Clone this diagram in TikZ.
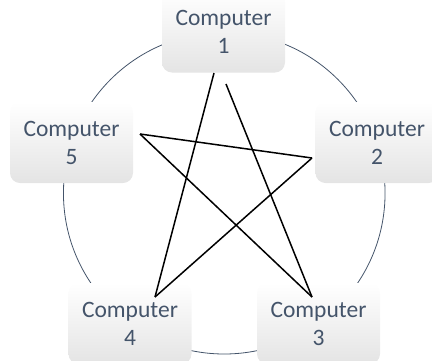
\documentclass[tikz,border=0pt]{standalone}
\usepackage{fontspec}
\setmainfont{Carlito}
\definecolor{textc}{HTML}{44546A}
\definecolor{boxbot}{HTML}{E4E4E4}
\tikzset{
  compbox/.style={rounded corners=10pt, top color=white, middle color=white, bottom color=boxbot,
    minimum width=123pt, minimum height=81pt, inner sep=0pt, align=center,
    text=textc, font=\fontsize{23.5}{28}\selectfont},
  ring/.style={draw=textc, line width=0.8pt},
  starline/.style={draw=black, line width=1.5pt}
}
\begin{document}
\begin{tikzpicture}[x=1pt,y=-1pt]
\useasboundingbox (0,0) rectangle (432,360);
\draw[ring] (224.25,193.2) circle [radius=160.8pt];
\node[compbox] (c1) at (223.5,32) {Computer\\1};
\node[compbox] (c2) at (377,142.5) {Computer\\2};
\node[compbox] (c3) at (318.5,323.5) {Computer\\3};
\node[compbox] (c4) at (130,323.5) {Computer\\4};
\node[compbox] (c5) at (71.5,142.5) {Computer\\5};
\coordinate (a1) at (214,73);
\coordinate (b1) at (226,84);
\coordinate (p5) at (140,134);
\coordinate (p2) at (312,158);
\coordinate (p4) at (155,297);
\coordinate (p3) at (312,297);
\draw[starline] (a1) -- (p4);
\draw[starline] (b1) -- (p3);
\draw[starline] (p5) -- (p3);
\draw[starline] (p5) -- (p2);
\draw[starline] (p2) -- (p4);
\end{tikzpicture}
\end{document}
